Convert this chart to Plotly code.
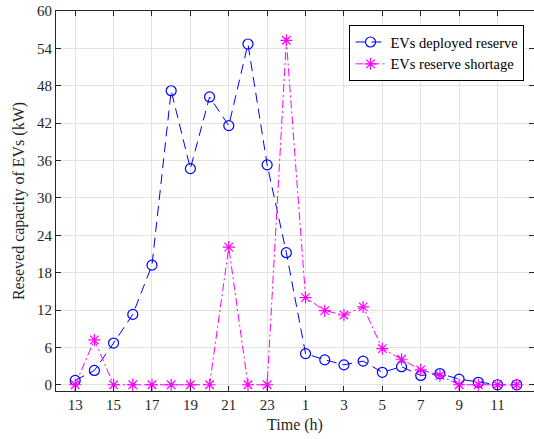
import plotly.graph_objects as go

# Hours of the day, starting at 13:00 and wrapping to noon the next day
hours = [13, 14, 15, 16, 17, 18, 19, 20, 21, 22, 23, 24,
         1, 2, 3, 4, 5, 6, 7, 8, 9, 10, 11, 12]
tick_labels = ["13", "15", "17", "19", "21", "23", "1", "3", "5", "7", "9", "11"]

deployed_reserve = [0.7, 2.3, 6.7, 11.3, 19.2, 47.2, 34.7, 46.2, 41.6, 54.7, 35.3, 21.2,
                    5.0, 4.0, 3.2, 3.8, 2.0, 2.9, 1.5, 1.8, 0.9, 0.4, 0.0, 0.0]
reserve_shortage = [0.0, 7.2, 0.0, 0.0, 0.0, 0.0, 0.0, 0.0, 22.1, 0.0, 0.0, 55.3,
                    14.0, 11.9, 11.2, 12.5, 5.8, 4.1, 2.4, 1.5, 0.0, 0.0, 0.0, 0.0]

idx = list(range(len(hours)))
serif = "Liberation Serif"
axis_col = "#262626"

fig = go.Figure()
fig.add_trace(go.Scatter(
    x=idx, y=deployed_reserve, name="EVs deployed reserve",
    mode="lines+markers",
    line=dict(color="#0000FF", width=1, dash="10px,6px"),
    marker=dict(symbol="circle-open", size=10, color="#0000FF", line=dict(width=1.2)),
))
fig.add_trace(go.Scatter(
    x=idx, y=reserve_shortage, name="EVs reserve shortage",
    mode="lines+markers",
    line=dict(color="#FF00FF", width=1, dash="8px,3px,2px,3px"),
    marker=dict(symbol="asterisk-open", size=10, color="#FF00FF", line=dict(width=1.2, color="#FF00FF")),
))

fig.update_layout(
    width=534, height=439,
    margin=dict(l=56, r=0, t=11, b=48),
    paper_bgcolor="white", plot_bgcolor="white",
    font=dict(family=serif, size=15, color=axis_col),
    legend=dict(
        x=0.614, y=0.963, xanchor="left", yanchor="top",
        bgcolor="white", bordercolor="#000000", borderwidth=1,
        font=dict(family=serif, size=14.5, color="#000000"),
        tracegroupgap=0, itemwidth=30,
    ),
)
fig.update_xaxes(
    range=[-1, 23.9],
    tickmode="array", tickvals=idx[::2], ticktext=tick_labels,
    ticks="inside", ticklen=5, tickcolor=axis_col,
    showline=True, linecolor=axis_col, linewidth=1, mirror="ticks",
    showgrid=True, gridcolor="#E3E3E3", gridwidth=1, zeroline=False,
    title=dict(text="Time (h)", font=dict(family=serif, size=16, color=axis_col), standoff=6),
    tickfont=dict(family=serif, size=15, color=axis_col),
)
fig.update_yaxes(
    range=[-1, 60],
    tickmode="array", tickvals=list(range(0, 61, 6)),
    ticks="inside", ticklen=5, tickcolor=axis_col,
    showline=True, linecolor=axis_col, linewidth=1, mirror="ticks",
    showgrid=True, gridcolor="#E3E3E3", gridwidth=1, zeroline=False,
    title=dict(text="Reseved capacity of EVs (kW)", font=dict(family=serif, size=16, color=axis_col), standoff=8),
    tickfont=dict(family=serif, size=15, color=axis_col),
)

fig.write_html("out.html")
